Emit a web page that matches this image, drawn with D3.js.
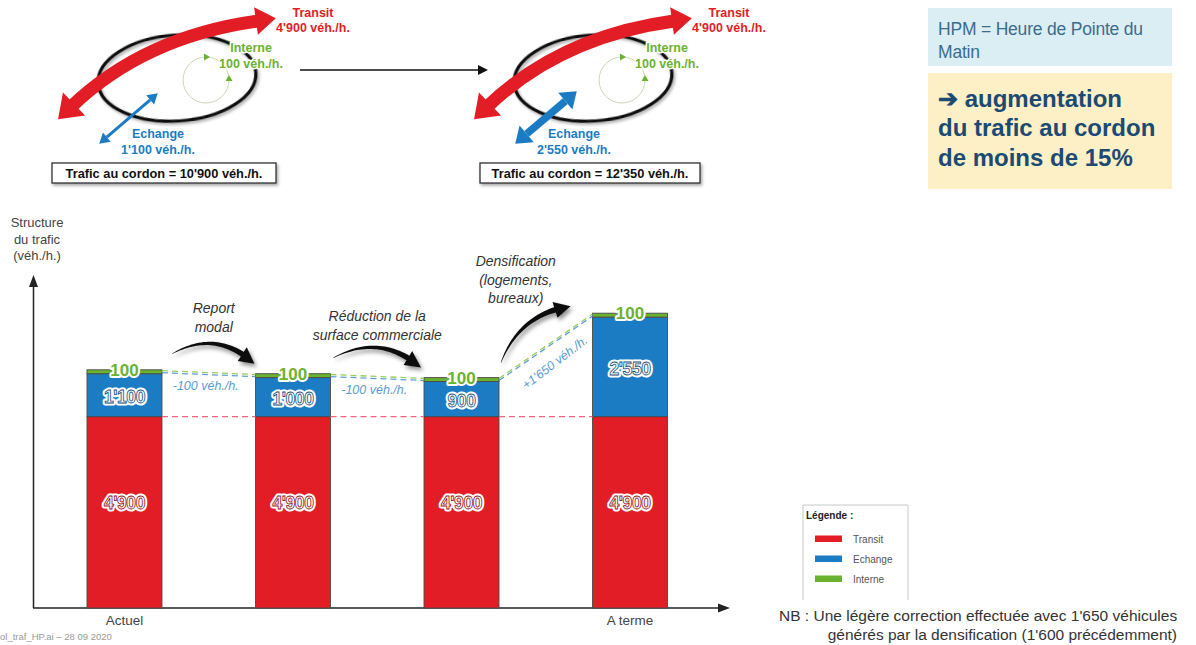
<!DOCTYPE html>
<html><head><meta charset="utf-8">
<script src="https://cdn.jsdelivr.net/npm/d3@7"></script>
<style>
html,body{margin:0;padding:0;background:#fff;}
svg{display:block;font-family:"Liberation Sans", Arial, Helvetica, sans-serif;}
</style></head><body>
<svg id="chart" width="1196" height="645"></svg>
<script>
// ---------------- DATA ----------------
const categories = ["Actuel", "Report modal", "Réduction surface commerciale", "A terme"];
const tickLabels = ["Actuel", "", "", "A terme"];
const series = ["Transit", "Echange", "Interne"];
const transit = [4900, 4900, 4900, 4900];
const echange = [1100, 1000, 900, 2550];
const interne = [100, 100, 100, 100];
const deltaLabels = ["-100 véh./h.", "-100 véh./h.", "+1'650 véh./h."];
const annotations = [["Report", "modal"], ["Réduction de la", "surface commerciale"], ["Densification", "(logements,", "bureaux)"]];
const yTitle = ["Structure", "du trafic", "(véh./h.)"];
const diagramTransit = [4900, 4900];
const diagramEchange = [1100, 2550];
const diagramInterne = [100, 100];
const cordonTotals = [10900, 12350];
const infoLines = ["HPM = Heure de Pointe du", "Matin"];
const highlightLines = ["➔ augmentation", "du trafic au cordon", "de moins de 15%"];
const nbLines = ["NB : Une légère correction effectuée avec 1'650 véhicules", "générés par la densification (1'600 précédemment)"];
const footnote = "ol_traf_HP.ai  –  28 09 2020";

// ---------------- STYLE ----------------
const colors = {Transit: "#e31d25", Echange: "#1c7cc3", Interne: "#6bb22f"};
const fmt = d3.formatLocale({decimal: ".", thousands: "'", grouping: [3], currency: ["", ""]}).format(",");

const svg = d3.select("#chart");
svg.append("rect").attr("width", 1196).attr("height", 645).attr("fill", "#fff");
const defs = svg.append("defs");
const f1 = defs.append("filter").attr("id", "shadow").attr("x", "-20%").attr("y", "-20%").attr("width", "140%").attr("height", "160%");
f1.append("feDropShadow").attr("dx", 1.5).attr("dy", 2).attr("stdDeviation", 1.5).attr("flood-color", "#000").attr("flood-opacity", 0.35);
const f2 = defs.append("filter").attr("id", "shadow2").attr("x", "-30%").attr("y", "-30%").attr("width", "160%").attr("height", "180%");
f2.append("feDropShadow").attr("dx", 2).attr("dy", 3).attr("stdDeviation", 2).attr("flood-color", "#000").attr("flood-opacity", 0.45);

// helpers
function head(g, base, dir, len, hw, color) {
  const n = [-dir[1], dir[0]];
  const tip = [base[0] + dir[0] * len, base[1] + dir[1] * len];
  g.append("polygon")
    .attr("points", [tip, [base[0] + n[0] * hw, base[1] + n[1] * hw], [base[0] - n[0] * hw, base[1] - n[1] * hw]].map(p => p.join(",")).join(" "))
    .attr("fill", color);
}
function norm(v) { const l = Math.hypot(v[0], v[1]); return [v[0] / l, v[1] / l]; }

// ---------------- TOP DIAGRAMS ----------------
function diagram(ox, i, blueW, blueHead, box) {
  const g = svg.append("g").attr("transform", `translate(${ox},0)`);
  g.append("ellipse").attr("cx", 177).attr("cy", 78).attr("rx", 79).attr("ry", 43)
    .attr("transform", "rotate(-4 177 78)")
    .attr("fill", "none").attr("stroke", "#111").attr("stroke-width", 3.2).attr("filter", "url(#shadow)");
  // interne circular arrow
  g.append("circle").attr("cx", 206).attr("cy", 80).attr("r", 23).attr("fill", "none").attr("stroke", "#cfd6b4").attr("stroke-width", 1);
  head(g, [204, 57], [1, 0], 6, 3.5, colors.Interne);
  head(g, [229, 81], [0, -1], 6, 3.5, colors.Interne);
  // transit red double arrow
  const P0 = [72, 106], C = [145, 36.5], P2 = [258, 21];
  g.append("path").attr("d", `M${P0}Q${C} ${P2}`).attr("fill", "none").attr("stroke", colors.Transit).attr("stroke-width", 13);
  head(g, [P0[0] + 2, P0[1] - 2], norm([P0[0] - C[0], P0[1] - C[1]]), 22, 16, colors.Transit);
  head(g, [P2[0] - 2, P2[1]], norm([P2[0] - C[0], P2[1] - C[1]]), 20, 14, colors.Transit);
  // echange blue double arrow
  const A = [100, 143], B = [157 + (blueW > 4 ? 3 : 0), 94 - (blueW > 4 ? 2 : 0)];
  const d = norm([B[0] - A[0], B[1] - A[1]]);
  const a2 = [A[0] + d[0] * (blueHead[0] - 1), A[1] + d[1] * (blueHead[0] - 1)];
  const b2 = [B[0] - d[0] * (blueHead[0] - 1), B[1] - d[1] * (blueHead[0] - 1)];
  g.append("line").attr("x1", a2[0]).attr("y1", a2[1]).attr("x2", b2[0]).attr("y2", b2[1]).attr("stroke", colors.Echange).attr("stroke-width", blueW);
  head(g, a2, [-d[0], -d[1]], blueHead[0], blueHead[1], colors.Echange);
  head(g, b2, d, blueHead[0], blueHead[1], colors.Echange);
  // texts (with white halo)
  const t = (x, y, txt, c) => {
    g.append("text").attr("x", x).attr("y", y).attr("text-anchor", "middle")
      .attr("font-size", 12.5).attr("font-weight", "bold").attr("fill", "#fff").attr("stroke", "#fff")
      .attr("stroke-width", 3).attr("stroke-linejoin", "round").text(txt);
    g.append("text").attr("x", x).attr("y", y).attr("text-anchor", "middle")
      .attr("font-size", 12.5).attr("font-weight", "bold").attr("fill", c).text(txt);
  };
  t(313, 16.5, "Transit", colors.Transit);
  t(313, 32, fmt(diagramTransit[i]) + " véh./h.", colors.Transit);
  t(251, 52, "Interne", colors.Interne);
  t(251, 67.5, fmt(diagramInterne[i]) + " véh./h.", colors.Interne);
  t(158, 138, "Echange", colors.Echange);
  t(158, 153.5, fmt(diagramEchange[i]) + " véh./h.", colors.Echange);
  g.append("rect").attr("x", box[0]).attr("y", 163).attr("width", box[1]).attr("height", 20)
    .attr("fill", "#fff").attr("stroke", "#333").attr("stroke-width", 1.3).attr("filter", "url(#shadow)");
  g.append("text").attr("x", box[0] + box[1] / 2).attr("y", 177.5).attr("text-anchor", "middle")
    .attr("font-size", 12.8).attr("font-weight", "bold").attr("fill", "#111")
    .text("Trafic au cordon = " + fmt(cordonTotals[i]) + " véh./h.");
}
diagram(0, 0, 3, [10, 6], [52, 224]);
diagram(416, 1, 7.5, [15, 11], [64, 220]);
// connecting arrow
svg.append("line").attr("x1", 300).attr("y1", 70).attr("x2", 479).attr("y2", 70).attr("stroke", "#111").attr("stroke-width", 1.5);
head(svg, [478, 70], [1, 0], 10, 5, "#111");

// ---------------- INFO BOXES ----------------
svg.append("rect").attr("x", 928).attr("y", 8).attr("width", 244).attr("height", 58).attr("fill", "#dbeef4");
infoLines.forEach((l, i) => svg.append("text").attr("x", 938).attr("y", 35 + i * 22.5)
  .attr("font-size", 17.5).attr("fill", "#3b6c8b").attr("letter-spacing", -0.2).text(l));
svg.append("rect").attr("x", 928).attr("y", 73).attr("width", 244).attr("height", 116).attr("fill", "#fdefc6");
highlightLines.forEach((l, i) => svg.append("text").attr("x", 938).attr("y", 106.5 + i * 29.5)
  .attr("font-size", 24).attr("font-weight", "bold").attr("fill", "#1b4a72").text(l));

// ---------------- CHART ----------------
const x = d3.scaleBand().domain(categories).range([87, 667.5]).paddingInner(0.555).paddingOuter(0);
const y = d3.scaleLinear().domain([0, 8400]).range([608, 280]);
const bw = x.bandwidth();
const rows = categories.map((c, i) => ({cat: c, Transit: transit[i], Echange: echange[i], Interne: interne[i]}));
const stacked = d3.stack().keys(series)(rows);

// y title
yTitle.forEach((l, i) => svg.append("text").attr("x", 37).attr("y", 227 + i * 16.5).attr("text-anchor", "middle")
  .attr("font-size", 13).attr("fill", "#444").text(l));

// axes
const axG = svg.append("g").attr("transform", "translate(0,608)")
  .call(d3.axisBottom(x).tickSize(0).tickPadding(7).tickFormat((d, i) => tickLabels[i]));
axG.select(".domain").remove();
axG.selectAll("text").attr("font-size", 13.5).attr("fill", "#444").attr("font-family", "Liberation Sans, Arial, sans-serif");
svg.append("line").attr("x1", 33.5).attr("y1", 608).attr("x2", 33.5).attr("y2", 285).attr("stroke", "#222").attr("stroke-width", 1.5);
head(svg, [33.5, 287], [0, -1], 12, 4.5, "#222");
svg.append("line").attr("x1", 33).attr("y1", 608).attr("x2", 720).attr("y2", 608).attr("stroke", "#222").attr("stroke-width", 1.5);
head(svg, [718, 608], [1, 0], 12, 4.5, "#222");

// bars
svg.append("g").selectAll("g").data(stacked).join("g")
  .attr("fill", s => colors[s.key])
  .selectAll("rect").data(s => s).join("rect")
  .attr("x", d => x(d.data.cat)).attr("width", bw)
  .attr("y", d => y(d[1])).attr("height", d => y(d[0]) - y(d[1]))
  .attr("stroke", "#4a4a4a").attr("stroke-width", 0.9);

// dashed connectors
const conn = svg.append("g").attr("fill", "none").attr("stroke-width", 1.3).attr("stroke-dasharray", "6,4");
for (let i = 0; i < categories.length - 1; i++) {
  const x0 = x(categories[i]) + bw, x1 = x(categories[i + 1]);
  const tot0 = transit[i] + echange[i] + interne[i], tot1 = transit[i + 1] + echange[i + 1] + interne[i + 1];
  conn.append("line").attr("x1", x0).attr("x2", x1).attr("y1", y(transit[i])).attr("y2", y(transit[i + 1])).attr("stroke", "#f0667c");
  conn.append("line").attr("x1", x0).attr("x2", x1).attr("y1", y(tot0) + 0.8).attr("y2", y(tot1) + 0.8).attr("stroke", "#9ccc5e");
  conn.append("line").attr("x1", x0).attr("x2", x1).attr("y1", y(transit[i] + echange[i]) - 1).attr("y2", y(transit[i + 1] + echange[i + 1]) - 1).attr("stroke", "#5fa0d8");
  // delta label
  const mx = (x0 + x1) / 2;
  if (i < 2) {
    svg.append("text").attr("x", mx - 3).attr("y", (y(tot0) + y(tot1)) / 2 + 18).attr("text-anchor", "middle")
      .attr("font-size", 12.5).attr("font-style", "italic").attr("fill", "#5a9bd3").text(deltaLabels[i]);
  } else {
    const ang = Math.atan2(y(tot1) - y(tot0), x1 - x0) * 180 / Math.PI;
    const my = (y(tot0) + y(tot1)) / 2;
    svg.append("text").attr("transform", `translate(${mx + 9},${my + 17}) rotate(${ang - 3})`).attr("text-anchor", "middle")
      .attr("dy", "0.35em").attr("font-size", 12.5).attr("font-style", "italic").attr("fill", "#5a9bd3").text(deltaLabels[i]);
  }
}

// swoosh arrows
function swoosh(p0, p1, bend, wMax) {
  const ch = [p1[0] - p0[0], p1[1] - p0[1]], L = Math.hypot(ch[0], ch[1]);
  const n = [ch[1] / L, -ch[0] / L];
  const c = [(p0[0] + p1[0]) / 2 + n[0] * bend, (p0[1] + p1[1]) / 2 + n[1] * bend];
  const q = t => [(1 - t) * (1 - t) * p0[0] + 2 * t * (1 - t) * c[0] + t * t * p1[0], (1 - t) * (1 - t) * p0[1] + 2 * t * (1 - t) * c[1] + t * t * p1[1]];
  const dq = t => norm([2 * (1 - t) * (c[0] - p0[0]) + 2 * t * (p1[0] - c[0]), 2 * (1 - t) * (c[1] - p0[1]) + 2 * t * (p1[1] - c[1])]);
  const tEnd = 0.84, N = 30, left = [], right = [];
  for (let k = 0; k <= N; k++) {
    const t = tEnd * k / N, p = q(t), d = dq(t), w = (0.4 + (wMax - 0.4) * Math.pow(t / tEnd, 0.8)) / 2;
    left.push([p[0] - d[1] * w, p[1] + d[0] * w]);
    right.push([p[0] + d[1] * w, p[1] - d[0] * w]);
  }
  const pb = q(tEnd), db = dq(tEnd), hw = wMax * 1.5;
  const headPts = [[pb[0] - db[1] * hw, pb[1] + db[0] * hw], p1, [pb[0] + db[1] * hw, pb[1] - db[0] * hw]];
  const pts = left.concat([headPts[0], headPts[1], headPts[2]], right.reverse());
  svg.append("path").attr("d", "M" + pts.map(p => p.join(",")).join("L") + "Z").attr("fill", "#111").attr("filter", "url(#shadow2)");
}
const tot = i => transit[i] + echange[i] + interne[i];
swoosh([x(categories[0]) + bw + 10, y(tot(0)) - 16], [x(categories[1]) - 1, y(tot(1)) - 10], 30, 5.5);
swoosh([x(categories[1]) + bw + 3, y(tot(1)) - 16], [x(categories[2]) - 3, y(tot(2)) - 10], 30, 5.5);
swoosh([x(categories[2]) + bw + 2, y(tot(2)) - 15], [x(categories[3]) - 22, y(tot(3)) - 7], 26, 5.5);

// annotations
const annDx = [5, 0, -30], annY = [313, 321, 266];
annotations.forEach((lines, i) => {
  const mx = (x(categories[i]) + bw + x(categories[i + 1])) / 2 + annDx[i];
  lines.forEach((l, j) => svg.append("text").attr("x", mx).attr("y", annY[i] + j * 18.5).attr("text-anchor", "middle")
    .attr("font-size", 14).attr("font-style", "italic").attr("fill", "#333").text(l));
});

// bar value labels
const labOff = {Transit: -10, Echange: 2};
stacked.forEach(s => {
  s.forEach(d => {
    const cx = x(d.data.cat) + bw / 2;
    if (s.key === "Interne") {
      const yy = y(d[1]) + 6;
      const add = () => svg.append("text").attr("x", cx).attr("y", yy).attr("text-anchor", "middle")
        .attr("font-size", 17).attr("font-weight", "bold").text(fmt(d[1] - d[0]));
      add().attr("fill", "#fff").attr("stroke", "#fff").attr("stroke-width", 4).attr("stroke-linejoin", "round");
      add().attr("fill", colors.Interne);
    } else {
      const yy = (y(d[0]) + y(d[1])) / 2 + labOff[s.key];
      const add = () => svg.append("text").attr("x", cx).attr("y", yy).attr("dy", "0.36em").attr("text-anchor", "middle")
        .attr("font-size", 17.5).attr("font-weight", "bold").attr("letter-spacing", -0.4).text(fmt(d[1] - d[0]));
      add().attr("fill", "#fff").attr("stroke", "#fff").attr("stroke-width", 5).attr("stroke-linejoin", "round");
      add().attr("fill", "#fff").attr("stroke", d3.color(colors[s.key]).darker(1.3)).attr("stroke-width", 0.8);
    }
  });
});

// legend
const lg = svg.append("g");
lg.append("path").attr("d", "M803,600V505H908V600").attr("fill", "none").attr("stroke", "#c8c8c8").attr("stroke-width", 1);
lg.append("text").attr("x", 806).attr("y", 519).attr("font-size", 10).attr("font-weight", "bold").attr("fill", "#222").text("Légende :");
series.forEach((s, i) => {
  lg.append("rect").attr("x", 815).attr("y", 535.5 + i * 20).attr("width", 27).attr("height", 6.5).attr("fill", colors[s]);
  lg.append("text").attr("x", 853).attr("y", 542.5 + i * 20).attr("font-size", 10).attr("fill", "#555").text(s);
});

// NB
svg.append("text").attr("x", 779).attr("y", 621).attr("font-size", 15.5).attr("fill", "#333").text(nbLines[0]);
svg.append("text").attr("x", 1177).attr("y", 639.5).attr("text-anchor", "end").attr("font-size", 15.5).attr("fill", "#333").text(nbLines[1]);
// footnote
svg.append("text").attr("x", 0).attr("y", 640).attr("font-size", 9.5).attr("fill", "#999").text(footnote);
</script>
</body></html>
